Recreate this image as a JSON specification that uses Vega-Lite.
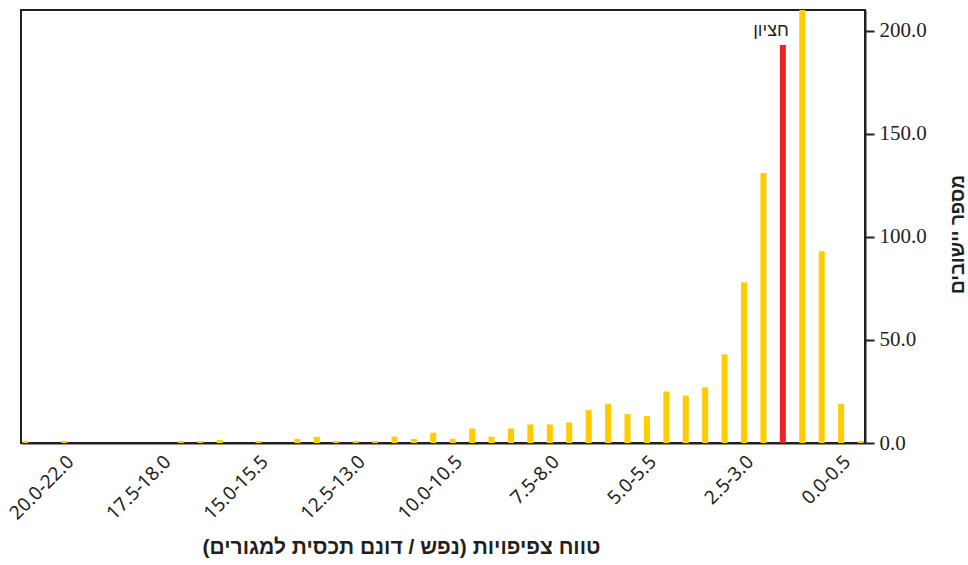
{
  "$schema": "https://vega.github.io/schema/vega-lite/v6.json",
  "width": 844,
  "height": 433,
  "autosize": "none",
  "padding": {"left": 21, "top": 10, "right": 103, "bottom": 122},
  "background": "white",
  "config": {"view": {"stroke": "#231f20", "strokeWidth": 2}},
  "data": {
    "values": [
      {"range": "24.0+", "count": 1, "group": "other", "note": ""},
      {"range": "22.0-24.0", "count": 0, "group": "other", "note": ""},
      {"range": "20.0-22.0", "count": 1, "group": "other", "note": ""},
      {"range": "19.5-20.0", "count": 0, "group": "other", "note": ""},
      {"range": "19.0-19.5", "count": 0, "group": "other", "note": ""},
      {"range": "18.5-19.0", "count": 0, "group": "other", "note": ""},
      {"range": "18.0-18.5", "count": 0, "group": "other", "note": ""},
      {"range": "17.5-18.0", "count": 0, "group": "other", "note": ""},
      {"range": "17.0-17.5", "count": 1, "group": "other", "note": ""},
      {"range": "16.5-17.0", "count": 1, "group": "other", "note": ""},
      {"range": "16.0-16.5", "count": 1.5, "group": "other", "note": ""},
      {"range": "15.5-16.0", "count": 0, "group": "other", "note": ""},
      {"range": "15.0-15.5", "count": 1, "group": "other", "note": ""},
      {"range": "14.5-15.0", "count": 0, "group": "other", "note": ""},
      {"range": "14.0-14.5", "count": 2, "group": "other", "note": ""},
      {"range": "13.5-14.0", "count": 3, "group": "other", "note": ""},
      {"range": "13.0-13.5", "count": 1, "group": "other", "note": ""},
      {"range": "12.5-13.0", "count": 1, "group": "other", "note": ""},
      {"range": "12.0-12.5", "count": 1, "group": "other", "note": ""},
      {"range": "11.5-12.0", "count": 3, "group": "other", "note": ""},
      {"range": "11.0-11.5", "count": 2, "group": "other", "note": ""},
      {"range": "10.5-11.0", "count": 5, "group": "other", "note": ""},
      {"range": "10.0-10.5", "count": 2, "group": "other", "note": ""},
      {"range": "9.5-10.0", "count": 7, "group": "other", "note": ""},
      {"range": "9.0-9.5", "count": 3, "group": "other", "note": ""},
      {"range": "8.5-9.0", "count": 7, "group": "other", "note": ""},
      {"range": "8.0-8.5", "count": 9, "group": "other", "note": ""},
      {"range": "7.5-8.0", "count": 9, "group": "other", "note": ""},
      {"range": "7.0-7.5", "count": 10, "group": "other", "note": ""},
      {"range": "6.5-7.0", "count": 16, "group": "other", "note": ""},
      {"range": "6.0-6.5", "count": 19, "group": "other", "note": ""},
      {"range": "5.5-6.0", "count": 14, "group": "other", "note": ""},
      {"range": "5.0-5.5", "count": 13, "group": "other", "note": ""},
      {"range": "4.5-5.0", "count": 25, "group": "other", "note": ""},
      {"range": "4.0-4.5", "count": 23, "group": "other", "note": ""},
      {"range": "3.5-4.0", "count": 27, "group": "other", "note": ""},
      {"range": "3.0-3.5", "count": 43, "group": "other", "note": ""},
      {"range": "2.5-3.0", "count": 78, "group": "other", "note": ""},
      {"range": "2.0-2.5", "count": 131, "group": "other", "note": ""},
      {"range": "1.5-2.0", "count": 193, "group": "median", "note": "חציון"},
      {"range": "1.0-1.5", "count": 210, "group": "other", "note": ""},
      {"range": "0.5-1.0", "count": 93, "group": "other", "note": ""},
      {"range": "0.0-0.5", "count": 19, "group": "other", "note": ""},
      {"range": "0", "count": 1, "group": "other", "note": ""}
    ]
  },
  "encoding": {
    "x": {
      "field": "range",
      "type": "nominal",
      "sort": null,
      "scale": {"paddingInner": 0.69, "paddingOuter": 0.075},
      "axis": {
        "orient": "bottom",
        "title": "טווח צפיפויות (נפש / דונם תכסית למגורים)",
        "titleFont": "Liberation Sans",
        "titleFontSize": 21,
        "titleFontWeight": "bold",
        "titleColor": "#231f20",
        "titleX": 380,
        "titleY": 104,
        "titleAlign": "center",
        "titleBaseline": "middle",
        "labelAngle": -45,
        "labelFont": "Noto Sans",
        "labelFontSize": 19,
        "labelColor": "#231f20",
        "labelExpr": "indexof(['0.0-0.5','2.5-3.0','5.0-5.5','7.5-8.0','10.0-10.5','12.5-13.0','15.0-15.5','17.5-18.0','20.0-22.0'], datum.value) >= 0 ? datum.value : ''",
        "labelOverlap": false,
        "labelBound": false,
        "ticks": false,
        "labelPadding": 9,
        "domainColor": "#231f20",
        "domainWidth": 2
      }
    }
  },
  "layer": [
    {
      "mark": {"type": "bar", "clip": true},
      "encoding": {
        "y": {
          "field": "count",
          "type": "quantitative",
          "scale": {"domain": [0, 210], "nice": false},
          "axis": {
            "orient": "right",
            "values": [0, 50, 100, 150, 200],
            "format": ".1f",
            "labelFont": "Liberation Serif",
            "labelFontSize": 21,
            "labelColor": "#231f20",
            "tickSize": 9,
            "tickWidth": 2,
            "tickColor": "#231f20",
            "labelPadding": 5,
            "domainColor": "#231f20",
            "domainWidth": 2,
            "grid": false,
            "title": "מספר יישובים",
            "titleFont": "Liberation Sans",
            "titleFontSize": 19,
            "titleFontWeight": "bold",
            "titleColor": "#231f20",
            "titleAngle": 270,
            "titleX": 92,
            "titleY": 224,
            "titleAlign": "center",
            "titleBaseline": "middle"
          }
        },
        "color": {
          "field": "group",
          "type": "nominal",
          "scale": {"domain": ["other", "median"], "range": ["#FFCC00", "#EE2227"]},
          "legend": null
        }
      }
    },
    {
      "transform": [{"filter": "datum.note != ''"}],
      "mark": {"type": "text", "align": "right", "baseline": "alphabetic", "dx": 6, "dy": -9, "font": "Liberation Sans", "fontSize": 18, "color": "#231f20"},
      "encoding": {
        "y": {"field": "count", "type": "quantitative"},
        "text": {"field": "note"}
      }
    }
  ]
}
